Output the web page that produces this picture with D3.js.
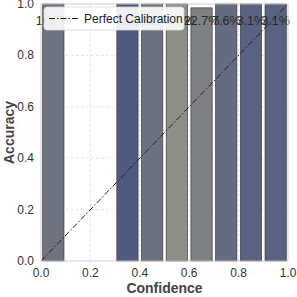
<!DOCTYPE html>
<html>
<head>
<meta charset="utf-8">
<script src="https://cdn.jsdelivr.net/npm/d3@7"></script>
<style>
  body { margin: 0; background: #fff; }
  svg { display: block; font-family: "Liberation Sans", Arial, sans-serif; }
</style>
</head>
<body>
<div id="chart"></div>
<script>
// bins of the reliability diagram (left edges), accuracy per bin, share of samples
const binStarts = [0.0, 0.3, 0.4, 0.5, 0.6, 0.7, 0.8, 0.9];
const accuracy  = [1.0, 1.0, 1.0, 1.0, 0.985, 1.0, 1.0, 1.0];
const shares    = ["16.7%", "4.5%", "12.1%", "30.3%", "22.7%", "7.6%", "3.1%", "3.1%"];
const barColors = ["#6f7380", "#4f5a7e", "#6c717f", "#8e8e88", "#7f8083", "#656b80", "#5a6282", "#5a6282"];
const ticks = [0, 0.2, 0.4, 0.6, 0.8, 1.0];

const W = 297, H = 297;
const margin = {top: 4, right: 9, bottom: 36, left: 41};
const iw = W - margin.left - margin.right;
const ih = H - margin.top - margin.bottom;

const svg = d3.select("#chart").append("svg").attr("width", W).attr("height", H);
const g = svg.append("g").attr("transform", `translate(${margin.left},${margin.top})`);

const x = d3.scaleLinear().domain([0, 1]).range([0, iw]);
const y = d3.scaleLinear().domain([0, 1]).range([ih, 0]);

// dashed grid behind everything
g.append("g").selectAll("line.gx")
  .data(ticks.slice(1, -1)).enter().append("line")
  .attr("x1", d => x(d)).attr("x2", d => x(d)).attr("y1", 0).attr("y2", ih)
  .attr("stroke", "#dedede").attr("stroke-width", 0.8).attr("stroke-dasharray", "3,2");
g.append("g").selectAll("line.gy")
  .data(ticks.slice(1, -1)).enter().append("line")
  .attr("y1", d => y(d)).attr("y2", d => y(d)).attr("x1", 0).attr("x2", iw)
  .attr("stroke", "#dedede").attr("stroke-width", 0.8).attr("stroke-dasharray", "3,2");

// bars, centred in each 0.1 bin
const bw = 0.086;
const bars = binStarts.map((b, i) => ({c: b + 0.05, acc: accuracy[i], label: shares[i], color: barColors[i]}));

g.selectAll("rect.bar")
  .data(bars).enter().append("rect")
  .attr("x", d => x(d.c - bw / 2))
  .attr("width", x(bw) - x(0))
  .attr("y", d => y(d.acc))
  .attr("height", d => y(0) - y(d.acc))
  .attr("fill", d => d.color)
  .attr("stroke", "#3c3c44").attr("stroke-width", 0.7);

// percentage labels (they overlap in the original too)
g.selectAll("text.pct")
  .data(bars).enter().append("text")
  .attr("x", d => x(d.c))
  .attr("y", y(0.918))
  .attr("text-anchor", "middle")
  .attr("font-size", 12.5)
  .attr("fill", "#2a2a2a")
  .text(d => d.label);

// perfect calibration diagonal
g.append("line")
  .attr("x1", x(0)).attr("y1", y(0)).attr("x2", x(1)).attr("y2", y(1))
  .attr("stroke", "#222").attr("stroke-width", 1)
  .attr("stroke-dasharray", "6,2,1.5,2");

// frame
g.append("rect").attr("width", iw).attr("height", ih)
  .attr("fill", "none").attr("stroke", "#cfcfcf").attr("stroke-width", 1);

// ticks
g.append("g").selectAll("text")
  .data(ticks).enter().append("text")
  .attr("x", d => x(d)).attr("y", ih + 16)
  .attr("text-anchor", "middle").attr("font-size", 12).attr("fill", "#333")
  .text(d3.format(".1f"));
g.append("g").selectAll("text")
  .data(ticks).enter().append("text")
  .attr("x", -7).attr("y", d => y(d) + 4)
  .attr("text-anchor", "end").attr("font-size", 12).attr("fill", "#333")
  .text(d3.format(".1f"));

// axis titles
svg.append("text")
  .attr("x", margin.left + iw / 2).attr("y", H - 4)
  .attr("text-anchor", "middle").attr("font-size", 14).attr("font-weight", "bold").attr("fill", "#444")
  .text("Confidence");
svg.append("text")
  .attr("transform", `translate(14,${margin.top + ih / 2}) rotate(-90)`)
  .attr("text-anchor", "middle").attr("font-size", 14).attr("font-weight", "bold").attr("fill", "#444")
  .text("Accuracy");

// legend
const lg = g.append("g").attr("transform", "translate(3,3)");
lg.append("rect").attr("width", 140).attr("height", 23).attr("rx", 3)
  .attr("fill", "#fff").attr("fill-opacity", 0.9).attr("stroke", "#d8d8d8").attr("stroke-width", 0.8);
lg.append("line").attr("x1", 5).attr("x2", 34).attr("y1", 11.5).attr("y2", 11.5)
  .attr("stroke", "#222").attr("stroke-width", 1).attr("stroke-dasharray", "6,2,1.5,2");
lg.append("text").attr("x", 40).attr("y", 15.5).attr("font-size", 12).attr("fill", "#222")
  .text("Perfect Calibration");
</script>
</body>
</html>
